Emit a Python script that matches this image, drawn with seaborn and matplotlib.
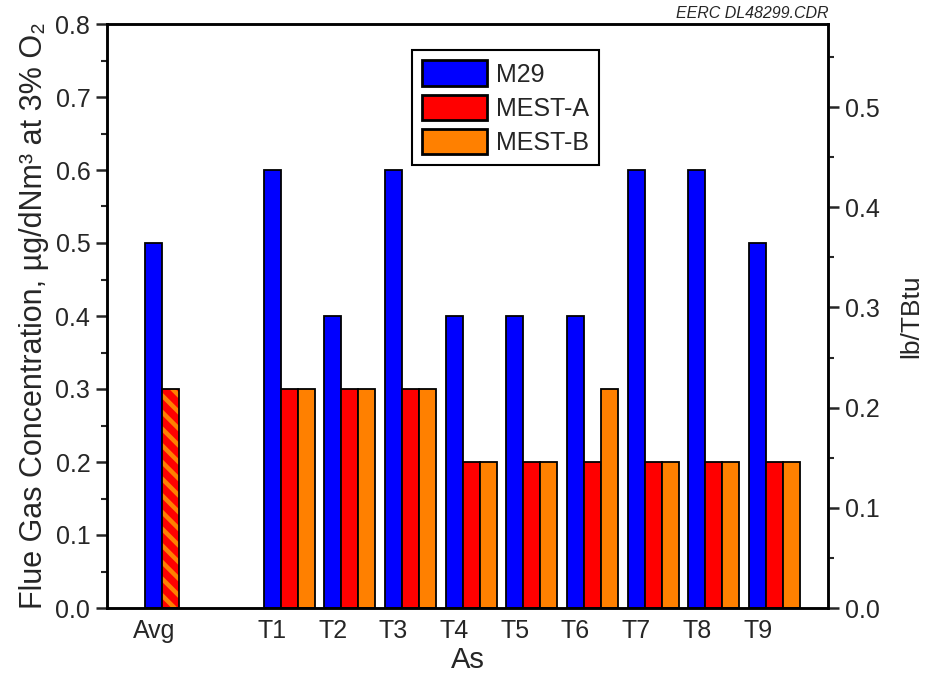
import numpy as np
import pandas as pd
import matplotlib
matplotlib.use("Agg")
import matplotlib.pyplot as plt
import seaborn as sns
from matplotlib.patches import Patch, Rectangle
from matplotlib.ticker import MultipleLocator, FormatStrFormatter

# ---- data ----
groups = ["Avg", "T1", "T2", "T3", "T4", "T5", "T6", "T7", "T8", "T9"]
m29 = [0.5, 0.6, 0.4, 0.6, 0.4, 0.4, 0.4, 0.6, 0.6, 0.5]
test_groups = ["T1", "T2", "T3", "T4", "T5", "T6", "T7", "T8", "T9"]
mest_a = [0.3, 0.3, 0.3, 0.2, 0.2, 0.2, 0.2, 0.2, 0.2]
mest_b = [0.3, 0.3, 0.3, 0.2, 0.2, 0.3, 0.2, 0.2, 0.2]
mest_avg = 0.3
series_names = ["M29", "MEST-A", "MEST-B"]
left_ticks = [0.0, 0.1, 0.2, 0.3, 0.4, 0.5, 0.6, 0.7, 0.8]
right_ticks = [0.0, 0.1, 0.2, 0.3, 0.4, 0.5]
ugdnm3_to_lbtbtu = 0.7286  # right axis scale factor

# ---- style ----
sns.set_style("white")
plt.rcParams["font.family"] = ["Liberation Sans", "DejaVu Sans"]
plt.rcParams["hatch.linewidth"] = 3.2

BLUE, RED, ORANGE = "#0000FF", "#FF0000", "#FF8000"
colors = [BLUE, RED, ORANGE]

fig = plt.figure(figsize=(9.25, 6.79), dpi=100)
ax = fig.add_axes([107 / 925, 1 - 608 / 679, (828 - 107) / 925, (608 - 24) / 679])

# positions: Avg, gap, then T1..T9
pos = {"Avg": 0.05}
for i, g in enumerate(test_groups):
    pos[g] = i + 2
w = 0.28

df_m29 = pd.DataFrame({"x": [pos[g] - w for g in groups], "y": m29})
df_a = pd.DataFrame({"x": [pos[g] for g in test_groups], "y": mest_a})
df_b = pd.DataFrame({"x": [pos[g] + w for g in test_groups], "y": mest_b})
df_avg = pd.DataFrame({"x": [pos["Avg"]], "y": [mest_avg]})

bar_kw = dict(native_scale=True, width=w, errorbar=None, edgecolor="black",
              linewidth=1.3, ax=ax)
sns.barplot(data=df_m29, x="x", y="y", color=BLUE, saturation=1, **bar_kw)
sns.barplot(data=df_a, x="x", y="y", color=RED, saturation=1, **bar_kw)
sns.barplot(data=df_b, x="x", y="y", color=ORANGE, saturation=1, **bar_kw)

n0 = len(ax.patches)
sns.barplot(data=df_avg, x="x", y="y", color=RED, saturation=1, **bar_kw)
for p in list(ax.patches[n0:]):
    p.set_hatch("\\\\")
    p.set_edgecolor(ORANGE)
    p.set_linewidth(0)
    ax.add_patch(Rectangle(p.get_xy(), p.get_width(), p.get_height(),
                           fill=False, edgecolor="black", linewidth=1.3, zorder=3))

# ---- axes ----
ax.set_xlim(-1.0, 10.88)
ax.set_ylim(0, 0.8)
ax.set_xticks([pos[g] - w for g in groups])
ax.set_xticklabels(groups)
ax.set_yticks(left_ticks)
ax.yaxis.set_major_formatter(FormatStrFormatter("%.1f"))
ax.yaxis.set_minor_locator(MultipleLocator(0.05))
ax.tick_params(axis="x", length=0, labelsize=18, pad=8)
ax.tick_params(axis="y", which="major", direction="out", length=8, width=1.8,
               labelsize=18, pad=4, left=True)
ax.tick_params(axis="y", which="minor", direction="out", length=4.5, width=1.5, left=True)
ax.set_xlabel("As", fontsize=21, labelpad=2)
ax.set_ylabel("Flue Gas Concentration, µg/dNm³ at 3% O₂", fontsize=22, labelpad=5)
for s in ax.spines.values():
    s.set_color("black")
    s.set_linewidth(1.8)

ax2 = ax.twinx()
ax2.set_ylim(0, 0.8 * ugdnm3_to_lbtbtu)
ax2.set_yticks(right_ticks)
ax2.yaxis.set_major_formatter(FormatStrFormatter("%.1f"))
ax2.yaxis.set_minor_locator(MultipleLocator(0.05))
ax2.tick_params(axis="y", which="major", direction="out", length=8, width=1.8,
                labelsize=18, pad=4, right=True)
ax2.tick_params(axis="y", which="minor", direction="out", length=4.5, width=1.5, right=True)
ax2.set_ylabel("lb/TBtu", fontsize=19, rotation=90, labelpad=14)
for s in ax2.spines.values():
    s.set_color("black")
    s.set_linewidth(1.8)
ax2.grid(False)
ax.grid(False)

# legend
handles = [Patch(facecolor=c, edgecolor="black", linewidth=2) for c in colors]
leg = ax.legend(handles, series_names, loc="upper left",
                bbox_to_anchor=(0.423, 0.955), borderaxespad=0, fontsize=18,
                handlelength=2.6, handleheight=1.2, handletextpad=0.35,
                labelspacing=0.32, borderpad=0.4, fancybox=False, framealpha=1)
leg.get_frame().set_edgecolor("black")
leg.get_frame().set_linewidth(1.5)

fig.text(828 / 925, 1 - 13 / 679, "EERC DL48299.CDR", ha="right", va="center",
         style="italic", fontsize=11.5)

fig.savefig("out.png", dpi=100)
